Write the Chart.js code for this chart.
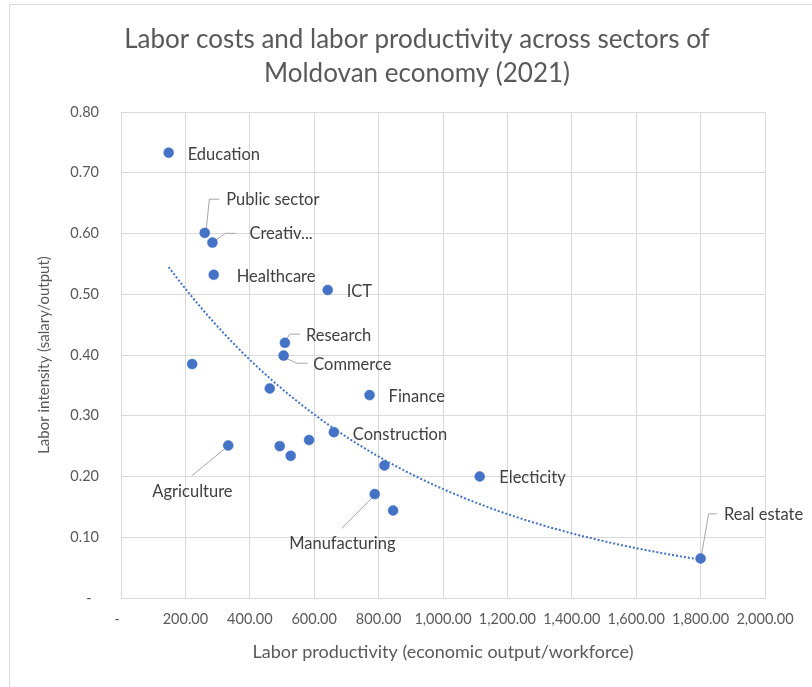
<!DOCTYPE html>
<html>
<head>
<meta charset="utf-8">
<script src="https://cdn.jsdelivr.net/npm/chart.js@4/dist/chart.umd.min.js"></script>
<style>
  html, body { margin: 0; padding: 0; background: #ffffff; }
  #wrap { width: 812px; height: 687px; position: relative; }
</style>
</head>
<body>
<div id="wrap"><canvas id="chart" width="812" height="687"></canvas></div>
<script>
// Sector names ('' = point shown without a label)
const sectorNames = ['Education', 'Public sector', 'Creativ...', 'Healthcare', 'ICT', 'Research', 'Commerce', '', '',
  'Finance', 'Construction', 'Agriculture', '', '', '', '', 'Manufacturing', '', 'Electicity', 'Real estate'];
// Labor productivity (economic output / workforce)
const productivity = [148, 260, 284, 288, 642, 509, 505, 221, 462,
  772, 661, 333, 493, 584, 527, 818, 788, 845, 1114, 1800];
// Labor intensity (salary / output)
const laborIntensity = [0.733, 0.601, 0.585, 0.532, 0.507, 0.420, 0.399, 0.385, 0.345,
  0.334, 0.273, 0.251, 0.250, 0.260, 0.234, 0.218, 0.171, 0.144, 0.200, 0.065];
// Axis tick values
const xTicks = [0, 200, 400, 600, 800, 1000, 1200, 1400, 1600, 1800, 2000];
const yTicks = [0, 0.1, 0.2, 0.3, 0.4, 0.5, 0.6, 0.7, 0.8];

const titleLines = ['Labor costs and labor productivity across sectors of', 'Moldovan economy (2021)'];

// Exponential trend line y = a·e^(b·x), least squares on ln(y)
function exponentialFit(xs, ys) {
  const n = xs.length;
  const ly = ys.map(v => Math.log(v));
  const mx = xs.reduce((s, v) => s + v, 0) / n;
  const my = ly.reduce((s, v) => s + v, 0) / n;
  let sxy = 0, sxx = 0;
  for (let i = 0; i < n; i++) { sxy += (xs[i] - mx) * (ly[i] - my); sxx += (xs[i] - mx) ** 2; }
  const b = sxy / sxx;
  const a = Math.exp(my - b * mx);
  return x => a * Math.exp(b * x);
}
const trend = exponentialFit(productivity, laborIntensity);
const xMin = Math.min(...productivity), xMax = Math.max(...productivity);
const trendPoints = [];
for (let k = 0; k <= 80; k++) {
  const x = xMin + (xMax - xMin) * k / 80;
  trendPoints.push({ x, y: trend(x) });
}

// Label placement relative to each marker (pixels)
const labelLayout = {
  'Education':     { dx: 19, dy: 2 },
  'Public sector': { dx: 21.5, dy: -33.7, leader: [[1.5, -3], [4.6, -33.7], [14.6, -33.7]] },
  'Creativ...':    { dx: 37, dy: -9.3, leader: [[1.3, -1], [13, -9.3], [23, -9.3]] },
  'Healthcare':    { dx: 23, dy: 2 },
  'ICT':           { dx: 19, dy: 2 },
  'Research':      { dx: 21, dy: -7.4, leader: [[1, -2.7], [5, -8.7], [15, -8.7]] },
  'Commerce':      { dx: 29.6, dy: 9.3, leader: [[2.3, 2.6], [13, 7.6], [24, 7.6]] },
  'Finance':       { dx: 19, dy: 1.5 },
  'Construction':  { dx: 19, dy: 2.5 },
  'Agriculture':   { dx: -35.8, dy: 46.4, align: 'center', leader: [[-2, 2], [-36.6, 30.4]] },
  'Manufacturing': { dx: -32.4, dy: 50, align: 'center', leader: [[-2, 3], [-33, 34.3]] },
  'Electicity':    { dx: 19.6, dy: 1.6 },
  'Real estate':   { dx: 23.3, dy: -44.3, leader: [[1, -4], [8, -44.7], [16.3, -44.7]] }
};

const FONT = 'Lato';
const fmtTick = v => (Math.abs(v) < 1e-9 ? '-  ' :
  Number(v).toLocaleString('en-US', { minimumFractionDigits: 2, maximumFractionDigits: 2 }));

const frameAndTitle = {
  id: 'frameAndTitle',
  beforeDraw(chart) {
    const ctx = chart.ctx;
    ctx.save();
    ctx.fillStyle = '#ffffff';
    ctx.fillRect(0, 0, chart.width, chart.height);
    ctx.strokeStyle = '#D9D9D9';
    ctx.lineWidth = 1;
    ctx.beginPath();
    ctx.moveTo(9.5, chart.height);
    ctx.lineTo(9.5, 4.5);
    ctx.lineTo(chart.width, 4.5);
    ctx.stroke();
    ctx.fillStyle = '#595959';
    ctx.font = `26px ${FONT}`;
    ctx.textAlign = 'center';
    ctx.textBaseline = 'middle';
    ctx.fillText(titleLines[0], 417, 40);
    ctx.fillText(titleLines[1], 417, 74);
    ctx.restore();
  }
};

const sectorLabels = {
  id: 'sectorLabels',
  beforeDatasetsDraw(chart) {
    const ctx = chart.ctx;
    const meta = chart.getDatasetMeta(0);
    ctx.save();
    ctx.strokeStyle = '#A6A6A6';
    ctx.lineWidth = 1;
    meta.data.forEach((pt, i) => {
      const lay = labelLayout[sectorNames[i]];
      if (!lay || !lay.leader) return;
      ctx.beginPath();
      lay.leader.forEach(([lx, ly], k) => {
        if (k === 0) ctx.moveTo(pt.x + lx, pt.y + ly); else ctx.lineTo(pt.x + lx, pt.y + ly);
      });
      ctx.stroke();
    });
    ctx.restore();
  },
  afterDatasetsDraw(chart) {
    const ctx = chart.ctx;
    const meta = chart.getDatasetMeta(0);
    ctx.save();
    ctx.fillStyle = '#404040';
    ctx.font = `16.5px ${FONT}`;
    ctx.textBaseline = 'middle';
    meta.data.forEach((pt, i) => {
      const name = sectorNames[i];
      const lay = labelLayout[name];
      if (!name || !lay) return;
      ctx.textAlign = lay.align || 'left';
      ctx.fillText(name, pt.x + lay.dx, pt.y + lay.dy);
    });
    ctx.restore();
  }
};

function draw() {
  new Chart(document.getElementById('chart'), {
    type: 'scatter',
    data: {
      datasets: [
        {
          label: 'Sectors',
          data: productivity.map((x, i) => ({ x, y: laborIntensity[i] })),
          backgroundColor: '#4472C4',
          borderColor: '#4472C4',
          borderWidth: 0.5,
          pointRadius: 5,
          order: 2
        },
        {
          label: 'Expon. trend',
          data: trendPoints,
          showLine: true,
          pointRadius: 0,
          borderColor: '#4472C4',
          borderWidth: 2,
          borderDash: [2, 2],
          tension: 0,
          fill: false,
          order: 1
        }
      ]
    },
    options: {
      responsive: false,
      animation: false,
      devicePixelRatio: 1,
      layout: { padding: { left: 0, top: 112, right: 47, bottom: 0 } },
      plugins: {
        legend: { display: false },
        title: { display: false },
        tooltip: { enabled: false }
      },
      scales: {
        x: {
          type: 'linear',
          min: xTicks[0],
          max: xTicks[xTicks.length - 1],
          afterBuildTicks: s => { s.ticks = xTicks.map(v => ({ value: v })); },
          afterFit: s => { s.height = 89; },
          ticks: {
            autoSkip: false, maxRotation: 0, minRotation: 0, padding: 13,
            color: '#595959', font: { family: FONT, size: 14.5 }, callback: fmtTick
          },
          grid: { color: '#D9D9D9', drawTicks: false },
          border: { color: '#D9D9D9' },
          title: {
            display: true, text: 'Labor productivity (economic output/workforce)',
            color: '#595959', font: { family: FONT, size: 18 }, padding: { top: 0, bottom: 24 }
          }
        },
        y: {
          type: 'linear',
          min: yTicks[0],
          max: yTicks[yTicks.length - 1],
          afterBuildTicks: s => { s.ticks = yTicks.map(v => ({ value: v })); },
          afterFit: s => { s.width = 121; },
          ticks: {
            autoSkip: false, padding: 22,
            color: '#595959', font: { family: FONT, size: 14.5 }, callback: fmtTick
          },
          grid: { color: '#D9D9D9', drawTicks: false },
          border: { color: '#D9D9D9' },
          title: {
            display: true, text: 'Labor intensity (salary/output)',
            color: '#595959', font: { family: FONT, size: 15 }, padding: { top: 35, bottom: 0 }
          }
        }
      }
    },
    plugins: [frameAndTitle, sectorLabels]
  });
}

if (document.fonts && document.fonts.load) {
  Promise.all([document.fonts.load(`15px ${FONT}`), document.fonts.load(`26px ${FONT}`)])
    .then(draw, draw);
} else {
  draw();
}
</script>
</body>
</html>
